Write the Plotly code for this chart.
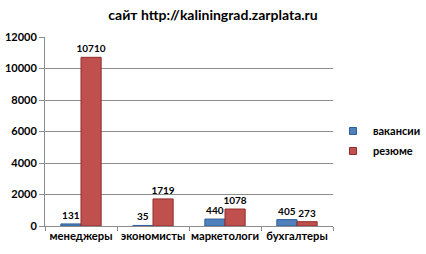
import plotly.graph_objects as go

categories = ["менеджеры", "экономисты", "маркетологи", "бухгалтеры"]
vacancies = [131, 35, 440, 405]
resumes = [10710, 1719, 1078, 273]
y_ticks = [0, 2000, 4000, 6000, 8000, 10000, 12000]
series_names = ["вакансии", "резюме"]
series_colors = ["#4F81BD", "#C0504D"]
series_edges = ["#2F5E9A", "#8F2E2B"]

FONT = "Lato"
W, H = 426, 254

fig = go.Figure()
for name, vals, col, edge in zip(series_names, [vacancies, resumes], series_colors, series_edges):
    fig.add_trace(go.Bar(
        x=categories, y=vals, name=name,
        marker=dict(color=col, line=dict(color=edge, width=1)),
        text=[str(v) for v in vals], textposition="outside",
        textfont=dict(family=FONT, size=10, color="black", weight="bold"),
        constraintext="none", cliponaxis=False, showlegend=False,
    ))
# legend entries with small square swatches
for i, (name, col, edge) in enumerate(zip(series_names, series_colors, series_edges)):
    fig.add_trace(go.Scatter(
        x=[None], y=[None], mode="markers", name=name,
        marker=dict(symbol="square", size=7, color=col, line=dict(color=edge, width=1)),
        legendgroup=str(i),
    ))

fig.update_layout(
    width=W, height=H,
    margin=dict(l=45, r=86, t=37, b=28),
    paper_bgcolor="white", plot_bgcolor="white",
    barmode="group", bargap=0.44, bargroupgap=0.0,
    title=dict(text="сайт http://kaliningrad.zarplata.ru", x=213 / W, xanchor="center",
               xref="container", yref="container",
               y=1 - 15 / H, yanchor="middle",
               font=dict(family=FONT, size=14, color="black", weight="bold")),
    font=dict(family=FONT, size=11, color="black"),
    showlegend=True,
    legend=dict(xref="container", yref="container",
                x=333 / W, y=1 - 141 / H, xanchor="left", yanchor="middle",
                font=dict(family=FONT, size=11, color="black", weight="bold"),
                tracegroupgap=1, itemwidth=30, traceorder="grouped"),
)
fig.update_xaxes(
    type="category", showline=True, linecolor="#8C8C8C", linewidth=1,
    ticks="outside", tickson="boundaries", ticklen=4, tickcolor="#8C8C8C",
    tickangle=0, automargin=False,
    tickfont=dict(family=FONT, size=11.2, color="black", weight="bold"),
    showgrid=False,
)
fig.update_yaxes(
    range=[0, 12000], tickvals=y_ticks, ticktext=[str(t) for t in y_ticks],
    showline=True, linecolor="#8C8C8C", linewidth=1,
    ticks="outside", ticklen=5, tickcolor="#8C8C8C",
    showgrid=True, gridcolor="#8C8C8C", gridwidth=1,
    tickfont=dict(family=FONT, size=11, color="black", weight="bold"),
    zeroline=False, automargin=False,
)

fig.write_html("out.html", config={"displayModeBar": False},
               post_script="document.body.style.margin='0';")
